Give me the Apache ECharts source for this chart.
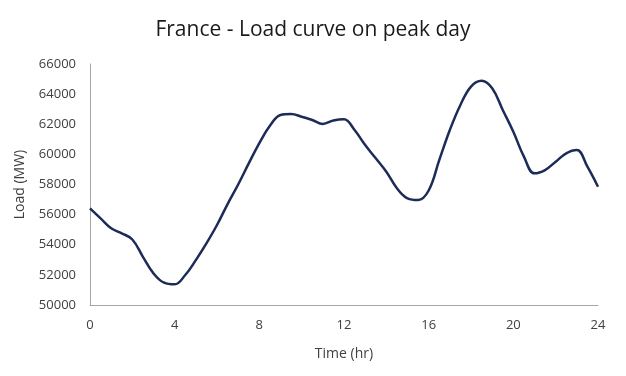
<!DOCTYPE html>
<html><head><meta charset="utf-8">
<script src="https://cdn.jsdelivr.net/npm/echarts@6/dist/echarts.min.js"></script>
<style>html,body{margin:0;padding:0;background:#fff}#c{width:626px;height:376px}</style>
</head><body><div id="c"></div>
<script>
const hours = [0,0.5,1,1.5,2,2.5,3,3.5,4,4.5,5,5.5,6,6.5,7,7.5,8,8.5,9,9.5,10,10.5,11,11.5,12,12.5,13,13.5,14,14.5,15,15.5,16,16.5,17,17.5,18,18.5,19,19.5,20,20.5,21,21.5,22,22.5,23,23.5,24];
const loadMW = [56420,55750,55090,54760,54350,53200,52100,51480,51370,51990,52980,54090,55310,56700,58000,59400,60750,61900,62610,62680,62500,62280,62020,62250,62330,61620,60620,59740,58850,57750,57080,56970,57600,59620,61620,63280,64500,64890,64390,62950,61500,59850,58740,58960,59510,60070,60290,59180,57850];
const xTicks = [0,4,8,12,16,20,24];
const chart = echarts.init(document.getElementById('c'));
const font = '"Open Sans", Lato, sans-serif';
chart.setOption({
  animation:false,
  title:{text:'France - Load curve on peak day',left:'center',top:15,
    textStyle:{fontFamily:font,fontSize:21,fontWeight:'normal',color:'#1a1a1a'}},
  grid:{left:90,right:28,top:64,bottom:71},
  xAxis:{type:'value',min:0,max:24,interval:4,name:'Time (hr)',nameLocation:'middle',nameGap:42,
    nameTextStyle:{fontFamily:font,fontSize:14,color:'#404040'},
    axisLine:{lineStyle:{color:'#a6a6a6',width:1}},axisTick:{show:false},splitLine:{show:false},
    axisLabel:{fontFamily:font,fontSize:13,color:'#404040',margin:14,
      formatter:v=>xTicks.includes(v)?String(v):''}},
  yAxis:{type:'value',min:50000,max:66000,interval:2000,name:'Load (MW)',nameLocation:'middle',nameGap:63,
    nameTextStyle:{fontFamily:font,fontSize:14,color:'#404040'},
    axisLine:{show:true,lineStyle:{color:'#a6a6a6',width:1}},axisTick:{show:false},splitLine:{show:false},
    axisLabel:{fontFamily:font,fontSize:13,color:'#404040',margin:14,formatter:v=>String(v)}},
  series:[{type:'line',data:hours.map((h,i)=>[h,loadMW[i]]),smooth:0.4,showSymbol:false,
    lineStyle:{color:'#1c2b57',width:2.5}}]
});
</script></body></html>
